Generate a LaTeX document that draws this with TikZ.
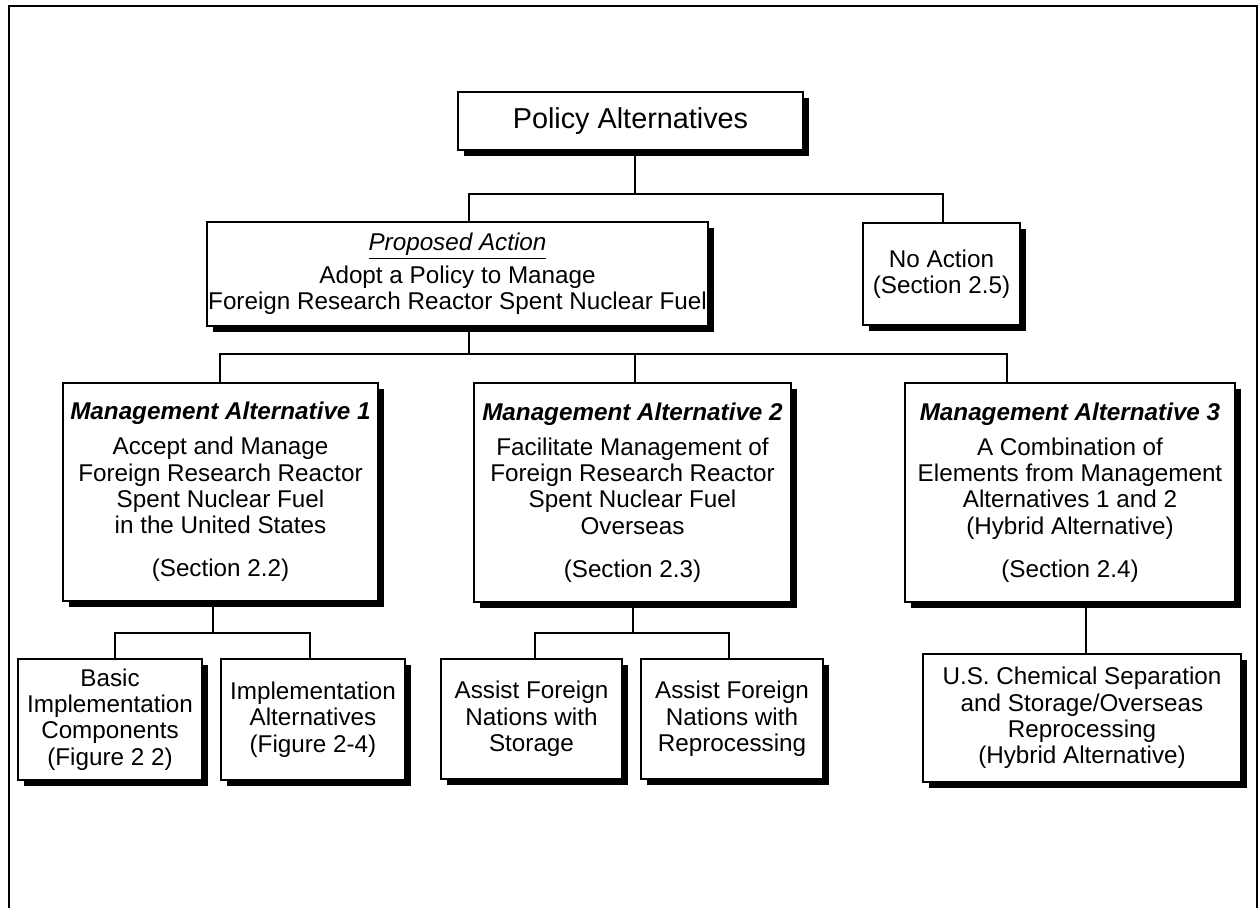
\documentclass[tikz,border=0pt]{standalone}
\usepackage{fontspec}
\setmainfont{Liberation Sans}
\usetikzlibrary{shadows}
\newcommand{\boxfont}{\fontsize{13.8pt}{15pt}\selectfont}
\newcommand{\titlefont}{\fontsize{16.4pt}{18pt}\selectfont}
\tikzset{
    % Boxes with a solid black shadow
    altbox/.style={draw, line width=0.9pt, fill=white, align=center, inner sep=0pt, font=\boxfont,
        drop shadow={shadow xshift=0.12cm, shadow yshift=-0.12cm, fill=black, opacity=1}},
    % Connecting lines
    conn/.style={line width=0.8pt},
    % Outer frame
    frameline/.style={line width=1.1pt}
}

\begin{document}
\begin{tikzpicture}[x=0.02cm, y=-0.02cm]
        \useasboundingbox (0,0) rectangle (1259,908);

        % Outer frame (open at the bottom)
        \draw[frameline] (9,908) -- (9,6) -- (1257,6) -- (1257,908);

        % Top level
        \node[altbox, minimum width=6.9cm, minimum height=1.16cm, font=\titlefont] (pol) at (630.5,121) {Policy Alternatives};

        % Second level
        \node[altbox, minimum width=10.02cm, minimum height=2.08cm] (prop) at (457.5,274)
            {\underline{\itshape Proposed Action}\\[3.8pt]Adopt a Policy to Manage\\Foreign Research Reactor Spent Nuclear Fuel};
        \node[altbox, minimum width=3.14cm, minimum height=2.04cm] (noact) at (941.5,274) {No Action\\(Section 2.5)};

        % Management alternatives
        \node[altbox, minimum width=6.3cm, minimum height=4.36cm] (ma1) at (220.5,492)
            {\textbf{\textit{Management Alternative 1}}\\[5pt]Accept and Manage\\Foreign Research Reactor\\Spent Nuclear Fuel\\in the United States\\[9.5pt](Section 2.2)};
        \node[altbox, minimum width=6.34cm, minimum height=4.38cm] (ma2) at (632.5,492.5)
            {\textbf{\textit{Management Alternative 2}}\\[5pt]Facilitate Management of\\Foreign Research Reactor\\Spent Nuclear Fuel\\Overseas\\[9.5pt](Section 2.3)};
        \node[altbox, minimum width=6.6cm, minimum height=4.38cm] (ma3) at (1070,492.5)
            {\textbf{\textit{Management Alternative 3}}\\[5pt]A Combination of\\Elements from Management\\Alternatives 1 and 2\\(Hybrid Alternative)\\[9.5pt](Section 2.4)};

        % Bottom level
        \node[altbox, minimum width=3.68cm, minimum height=2.42cm] (bic) at (110,719.5) {Basic\\Implementation\\Components\\(Figure 2 2)};
        \node[altbox, minimum width=3.68cm, minimum height=2.42cm] (ia) at (313,719.5) {Implementation\\Alternatives\\(Figure 2-4)};
        \node[altbox, minimum width=3.62cm, minimum height=2.4cm] (afs) at (531.5,719) {Assist Foreign\\Nations with\\Storage};
        \node[altbox, minimum width=3.64cm, minimum height=2.4cm] (afr) at (732,719) {Assist Foreign\\Nations with\\Reprocessing};
        \node[altbox, minimum width=6.36cm, minimum height=2.56cm] (hyb) at (1082,718)
            {U.S. Chemical Separation\\and Storage/Overseas\\Reprocessing\\(Hybrid Alternative)};

        % Junction points
        \coordinate (j0) at (635,194);
        \coordinate (b1) at (469,194);
        \coordinate (b2) at (943,194);
        \coordinate (c1) at (220,354);
        \coordinate (c3) at (1007,354);
        \coordinate (d0) at (213,633);
        \coordinate (d1) at (115,633);
        \coordinate (d2) at (310,633);
        \coordinate (e0) at (633,633);
        \coordinate (e1) at (535,633);
        \coordinate (e2) at (729,633);
        \coordinate (f0) at (1086,654);

        % Policy to proposed action and no action
        \draw[conn] (pol.south -| j0) -- (j0);
        \draw[conn] (prop.north -| b1) |- (b2) -- (noact.north -| b2);

        % Proposed action to management alternatives
        \draw[conn] (prop.south -| b1) -- (b1 |- c1);
        \draw[conn] (ma1.north -| c1) -- (c1) -- (c3) -- (ma3.north -| c3);
        \draw[conn] (ma2.north -| j0) -- (j0 |- c1);

        % Management alternative 1 to its components
        \draw[conn] (ma1.south -| d0) -- (d0);
        \draw[conn] (bic.north -| d1) |- (d2) -- (ia.north -| d2);

        % Management alternative 2 to its options
        \draw[conn] (ma2.south -| e0) -- (e0);
        \draw[conn] (afs.north -| e1) |- (e2) -- (afr.north -| e2);

        % Management alternative 3 to hybrid
        \draw[conn] (ma3.south -| f0) -- (hyb.north -| f0);
\end{tikzpicture}
\end{document}
